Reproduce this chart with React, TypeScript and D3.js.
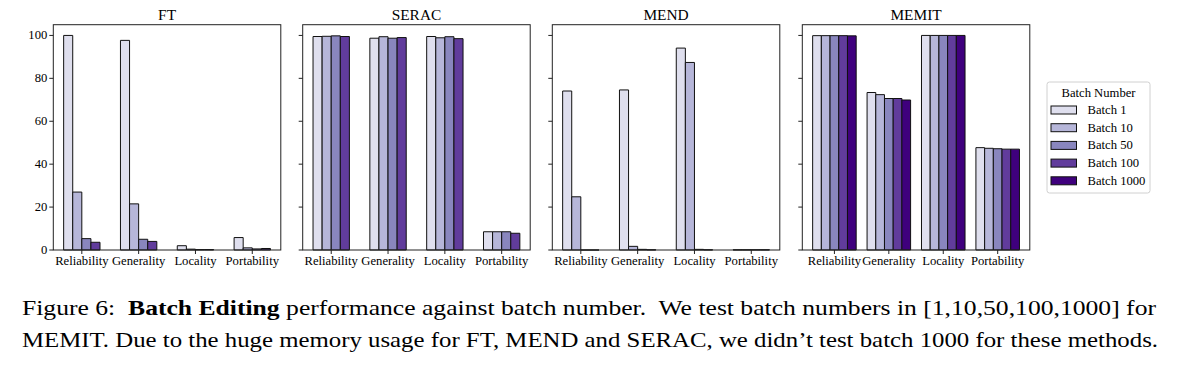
import React from "react";
import * as d3 from "d3";

const categories = ["Reliability", "Generality", "Locality", "Portability"];
const batchLabels = ["Batch 1", "Batch 10", "Batch 50", "Batch 100", "Batch 1000"];
const methods = ["FT", "SERAC", "MEND", "MEMIT"];
const yTicks = [0, 20, 40, 60, 80, 100];

// values per category, one entry per batch size
const ftValues = [
  [100, 27, 5.3, 3.6],
  [97.7, 21.5, 5.0, 4.0],
  [2.0, 0.4, 0.2, 0.2],
  [5.8, 1.0, 0.5, 0.7],
];
const seracValues = [
  [99.5, 99.6, 99.8, 99.5],
  [98.7, 99.4, 98.7, 99.0],
  [99.5, 98.9, 99.4, 98.5],
  [8.5, 8.5, 8.5, 7.8],
];
const mendValues = [
  [74.1, 24.8, 0, 0],
  [74.6, 1.7, 0.3, 0.1],
  [94.1, 87.4, 0.3, 0.1],
  [0.1, 0.1, 0.1, 0.1],
];
const memitValues = [
  [99.9, 99.9, 99.9, 99.9, 99.8],
  [73.4, 72.4, 70.6, 70.6, 69.9],
  [100, 100, 100, 100, 100],
  [47.7, 47.4, 47.2, 47.0, 47.0],
];
const allValues = [ftValues, seracValues, mendValues, memitValues];

const colors = ["#dfdfee", "#b6b6d9", "#8986be", "#613c9c", "#3f007d"];

const FONT = "Liberation Serif";
const SX = 1.1;
const BAR_W = 0.16;

const panelLefts = [53.3, 302.7, 552.3, 802.3];
const panelW = 227.5;
const top = 24.7;
const bottom = 250;

function T({ x, y, children, size, anchor = "middle", weight = "normal" }: any) {
  return (
    <text
      transform={`translate(${x},${y}) scale(${SX},1)`}
      fontSize={size}
      style={{ fontFamily: FONT }}
      textAnchor={anchor}
      fontWeight={weight}
      fill="#000"
    >
      {children}
    </text>
  );
}

function Panel({ idx }: { idx: number }) {
  const vals = allValues[idx];
  const n = vals[0].length;
  const gw = n * BAR_W;
  const pad = 0.05 * (categories.length - 1 + gw);
  const x = d3
    .scaleLinear()
    .domain([-gw / 2 - pad, categories.length - 1 + gw / 2 + pad])
    .range([panelLefts[idx], panelLefts[idx] + panelW]);
  const y = d3.scaleLinear().domain([0, 105]).range([bottom, top]);
  return (
    <g>
      {vals.map((grp, i) =>
        grp.map((v, j) => {
          const x0 = x(i + (j - n / 2) * BAR_W);
          const x1 = x(i + (j - n / 2 + 1) * BAR_W);
          const y0 = y(0);
          const y1 = y(v);
          return (
            <path
              key={`${i}-${j}`}
              d={`M${x0},${y0}V${y1}H${x1}V${y0}Z`}
              fill={colors[j]}
              stroke="#111"
              strokeWidth={1}
            />
          );
        })
      )}
      <rect
        x={panelLefts[idx]}
        y={top}
        width={panelW}
        height={bottom - top}
        fill="none"
        stroke="#222"
        strokeWidth={1}
      />
      {yTicks.map((t) => (
        <g key={t}>
          <line
            x1={panelLefts[idx] - 4}
            x2={panelLefts[idx]}
            y1={y(t)}
            y2={y(t)}
            stroke="#222"
            strokeWidth={1}
          />
          {idx === 0 && (
            <T x={panelLefts[idx] - 6} y={y(t) + 4} size={11.5} anchor="end">
              {t}
            </T>
          )}
        </g>
      ))}
      {categories.map((c, i) => (
        <g key={c}>
          <line x1={x(i)} x2={x(i)} y1={bottom} y2={bottom + 4} stroke="#222" strokeWidth={1} />
          <T x={x(i)} y={264.5} size={11.5}>
            {c}
          </T>
        </g>
      ))}
      <T x={panelLefts[idx] + panelW / 2} y={19.5} size={14}>
        {methods[idx]}
      </T>
    </g>
  );
}

function Legend() {
  const lx = 1047;
  const ly = 82;
  return (
    <g>
      <rect x={lx} y={ly} width={103} height={111} rx={2.5} fill="#fff" stroke="#d0d0d0" strokeWidth={1} />
      <T x={lx + 51.5} y={97} size={11.5}>
        Batch Number
      </T>
      {batchLabels.map((b, j) => {
        const cy = 110 + j * 17.7;
        return (
          <g key={b}>
            <rect x={1051} y={cy - 4} width={25.5} height={8} fill={colors[j]} stroke="#111" strokeWidth={1} />
            <T x={1087.5} y={cy + 4} size={11.5} anchor="start">
              {b}
            </T>
          </g>
        );
      })}
    </g>
  );
}

export default function App() {
  return (
    <svg
      width={1203}
      height={375}
      style={{ position: "absolute", left: 0, top: 0, background: "#fff" }}
    >
      <rect x={0} y={0} width={1203} height={375} fill="#fff" />
      {methods.map((m, i) => (
        <Panel key={m} idx={i} />
      ))}
      <Legend />
      <text
        x={22}
        y={315}
        fontSize={21}
        style={{ fontFamily: FONT, whiteSpace: "pre" }}
        textLength={1134}
        lengthAdjust="spacingAndGlyphs"
      >
        {"Figure 6:  "}
        <tspan fontWeight="bold">Batch Editing</tspan>
        {" performance against batch number.  We test batch numbers in [1,10,50,100,1000] for"}
      </text>
      <text
        x={22}
        y={346.5}
        fontSize={21}
        style={{ fontFamily: FONT, whiteSpace: "pre" }}
        textLength={1136}
        lengthAdjust="spacingAndGlyphs"
      >
        {"MEMIT. Due to the huge memory usage for FT, MEND and SERAC, we didn\u2019t test batch 1000 for these methods."}
      </text>
    </svg>
  );
}
